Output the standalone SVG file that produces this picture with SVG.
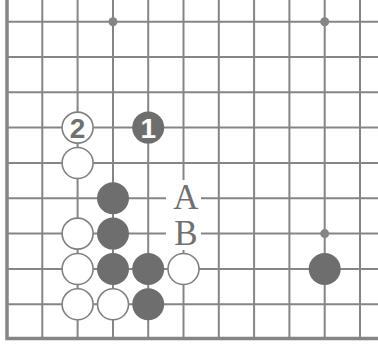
<svg xmlns="http://www.w3.org/2000/svg" width="378" height="345" viewBox="0 0 378 345">
<style>
.g{stroke:#858585;stroke-width:2;fill:none}
.b{stroke:#858585;stroke-width:3.5;fill:none}
.w{fill:#fff;stroke:#808080;stroke-width:1.6}
.k{fill:#6e6e6e}
.lbl{font-family:"Liberation Serif",serif;font-size:35px;fill:#707070;text-anchor:middle}
.num{font-family:"Liberation Sans",sans-serif;font-size:28px;font-weight:bold;text-anchor:middle}
</style>
<rect width="378" height="345" fill="#fff"/>
<g id="grid">
<path class="g" d="M42.3 0V338M77.6 0V338M113 0V338M148.2 0V338M183.5 0V338M218.8 0V338M254.1 0V338M289.4 0V338M324.7 0V338M360 0V338"/>
<path class="g" d="M7 21.7H378M7 57H378M7 92.3H378M7 127.6H378M7 163H378M7 198.3H378M7 233.6H378M7 269H378M7 304.3H378"/>
<path class="b" d="M7 0V338.5H378"/>
<circle cx="113" cy="21.7" r="4.5" fill="#858585"/>
<circle cx="324.7" cy="21.7" r="4.5" fill="#858585"/>
<circle cx="324.7" cy="233.6" r="4.5" fill="#858585"/>
</g>
<g id="w2"><circle class="w" cx="77.6" cy="127.6" r="15.5"/><text class="num" x="77.6" y="137.6" fill="#707070">2</text></g>
<g id="b1"><circle class="k" cx="148.2" cy="127.6" r="16"/><text class="num" x="148.2" y="137.6" fill="#fff">1</text></g>
<g id="w-2-4"><circle class="w" cx="77.6" cy="163" r="15.5"/></g>
<g id="b-3-5"><circle class="k" cx="113" cy="198.3" r="16"/></g>
<g id="w-2-6"><circle class="w" cx="77.6" cy="233.6" r="15.5"/></g>
<g id="b-3-6"><circle class="k" cx="113" cy="233.6" r="16"/></g>
<g id="w-2-7"><circle class="w" cx="77.6" cy="269" r="15.5"/></g>
<g id="b-3-7"><circle class="k" cx="113" cy="269" r="16"/></g>
<g id="b-4-7"><circle class="k" cx="148.2" cy="269" r="16"/></g>
<g id="w-5-7"><circle class="w" cx="183.5" cy="269" r="15.5"/></g>
<g id="b-9-7"><circle class="k" cx="324.7" cy="269" r="16"/></g>
<g id="w-2-8"><circle class="w" cx="77.6" cy="304.3" r="15.5"/></g>
<g id="w-3-8"><circle class="w" cx="113" cy="304.3" r="15.5"/></g>
<g id="b-4-8"><circle class="k" cx="148.2" cy="304.3" r="16"/></g>
<rect x="166" y="180" width="35" height="70" fill="#fff"/>
<g id="labelA"><text class="lbl" x="186" y="209">A</text></g>
<g id="labelB"><text class="lbl" x="186" y="245">B</text></g>
</svg>
